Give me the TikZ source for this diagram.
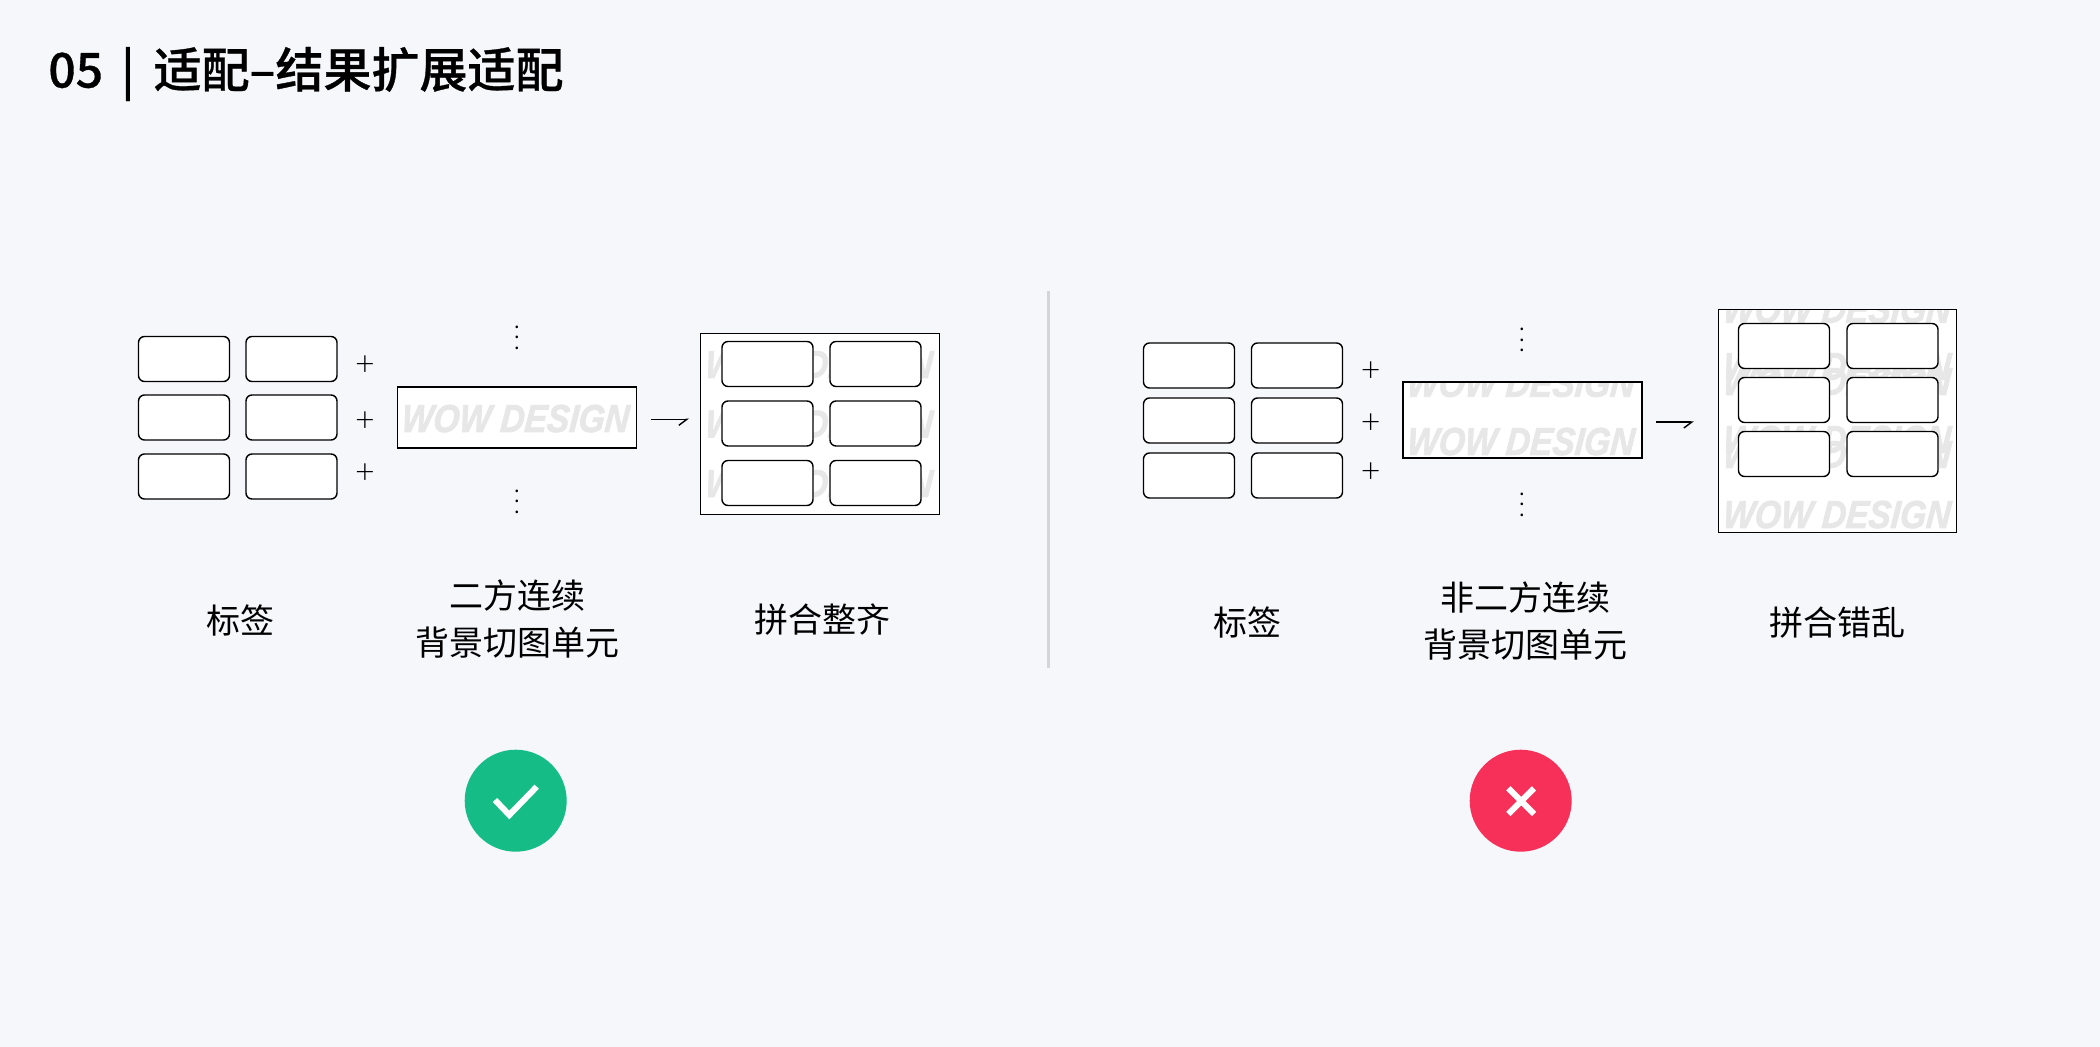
\documentclass[tikz,border=0pt]{standalone}
\usepackage{fontspec}
\setmainfont{Noto Sans CJK SC}
\newfontfamily\titlefont[FakeBold=0.7]{Noto Sans CJK SC Medium}
\newfontfamily\wowfont[BoldItalicFeatures={FakeBold=2,FakeSlant=0.1}]{Liberation Sans}
\newfontfamily\plusfont{Lato Light}
\usetikzlibrary{arrows.meta}
\definecolor{paper}{HTML}{F6F7FB}
\definecolor{okgreen}{HTML}{16BC85}
\definecolor{badred}{HTML}{F73059}
\definecolor{wowgray}{HTML}{E7E7E7}
\definecolor{dividergray}{HTML}{D5D5D8}

\begin{document}
\begin{tikzpicture}[x=0.5pt,y=-0.5pt,
   tagbox/.style={draw=black,fill=white,line width=0.7pt,rounded corners=3pt,inner sep=0pt,minimum width=45.5pt,minimum height=22.5pt},
   framebox/.style={fill=white,inner sep=0pt},
   frameline/.style={line width=0.8pt},
   wowmark/.style={anchor=base west,inner sep=0pt,text=wowgray,transform shape,xscale=0.86,font=\wowfont\bfseries\itshape\fontsize{19.5pt}{19.5pt}\selectfont},
   plusmark/.style={inner sep=0pt,yshift=-0.7pt,text=black,font=\plusfont\fontsize{17pt}{17pt}\selectfont},
   dotsmark/.style={inner sep=0pt,align=center,font=\fontsize{10pt}{5.25pt}\selectfont},
   caption/.style={inner sep=0pt,align=center,font=\fontsize{17pt}{23.5pt}\selectfont},
   arrowline/.style={line width=0.7pt,-{Straight Barb[harpoon,swap,length=4pt,width=6pt,line width=0.7pt]}},
   badge/.style={circle,inner sep=0pt,minimum size=51pt}]
\useasboundingbox (0,0) rectangle (2100,1047);
\fill[paper] (0,0) rectangle (2100,1047);
\node[anchor=west,inner sep=0pt,font=\titlefont\fontsize{24pt}{24pt}\selectfont] (title) at (48,74) {05\hspace{9pt}|\hspace{9.5pt}适配–结果扩展适配};
\draw[dividergray,line width=1.2pt] (1048.5,291) -- (1048.5,668);

% good side
\node[tagbox] (tagAa) at (184,359) {};   \node[tagbox] (tagAb) at (291.5,359) {};
\node[tagbox] (tagAc) at (184,417.5) {}; \node[tagbox] (tagAd) at (291.5,417.5) {};
\node[tagbox] (tagAe) at (184,476.5) {}; \node[tagbox] (tagAf) at (291.5,476.5) {};
\node[plusmark] (plusAa) at (365,364) {+};
\node[plusmark] (plusAb) at (365,420) {+};
\node[plusmark] (plusAc) at (365,472) {+};
\node[dotsmark] (dotsAa) at (517,337.5) {.\\.\\.};
\node[dotsmark] (dotsAb) at (517,501.5) {.\\.\\.};
\node[framebox,minimum width=119pt,minimum height=30pt] (tileA) at (517,417.7) {};
\node[wowmark] (wowAa) at (400.5,432) {WOW DESIGN};
\draw[frameline] (tileA.south west) rectangle (tileA.north east);
\node[framebox,minimum width=119pt,minimum height=90pt] (sheetA) at (820,424) {};
\begin{scope}
\clip (sheetA.south west) rectangle (sheetA.north east);
\node[wowmark] (wowAb) at (704,378) {WOW DESIGN};
\node[wowmark] (wowAc) at (704,437.5) {WOW DESIGN};
\node[wowmark] (wowAd) at (704,497) {WOW DESIGN};
\end{scope}
\draw[frameline] (sheetA.south west) rectangle (sheetA.north east);
\node[tagbox] (cellAa) at (767.5,364) {};   \node[tagbox] (cellAb) at (875.5,364) {};
\node[tagbox] (cellAc) at (767.5,423.5) {}; \node[tagbox] (cellAd) at (875.5,423.5) {};
\node[tagbox] (cellAe) at (767.5,483) {};   \node[tagbox] (cellAf) at (875.5,483) {};
\coordinate (arrowAa) at (651,419.3);
\coordinate (arrowAb) at (689,419.3);
\draw[arrowline] (arrowAa) -- (arrowAb);
\node[caption] (capAa) at (240,620) {标签};
\node[caption] (capAb) at (517,619) {二方连续\\背景切图单元};
\node[caption] (capAc) at (822,620) {拼合整齐};
\node[badge,fill=okgreen] (okbadge) at (515.7,800.7) {};
\draw[white,line width=3pt] (495,800) -- (509.3,815) -- (536.7,786.7);

% bad side
\node[tagbox] (tagBa) at (1189,365.5) {}; \node[tagbox] (tagBb) at (1297,365.5) {};
\node[tagbox] (tagBc) at (1189,420.5) {}; \node[tagbox] (tagBd) at (1297,420.5) {};
\node[tagbox] (tagBe) at (1189,475.5) {}; \node[tagbox] (tagBf) at (1297,475.5) {};
\node[plusmark] (plusBa) at (1370.7,370) {+};
\node[plusmark] (plusBb) at (1370.7,422) {+};
\node[plusmark] (plusBc) at (1370.7,471) {+};
\node[dotsmark] (dotsBa) at (1522.6,340) {.\\.\\.};
\node[dotsmark] (dotsBb) at (1522.6,504.5) {.\\.\\.};
\node[framebox,minimum width=119pt,minimum height=37.6pt] (tileB) at (1522.3,420) {};
\begin{scope}
\clip (tileB.south west) rectangle (tileB.north east);
\node[wowmark] (wowBa) at (1406,396.7) {WOW DESIGN};
\node[wowmark] (wowBb) at (1406,455) {WOW DESIGN};
\end{scope}
\draw[frameline] (tileB.south west) rectangle (tileB.north east);
\node[framebox,minimum width=118.5pt,minimum height=111pt] (sheetB) at (1837.5,421) {};
\begin{scope}
\clip (sheetB.south west) rectangle (sheetB.north east);
\node[wowmark] (wowBc) at (1722,322.7) {WOW DESIGN};
\node[wowmark] (wowBd) at (1722,380) {WOW DESIGN};
\node[wowmark] (wowBe) at (1722,395) {WOW DESIGN};
\node[wowmark] (wowBf) at (1722,453) {WOW DESIGN};
\node[wowmark] (wowBg) at (1722,468) {WOW DESIGN};
\node[wowmark] (wowBh) at (1722,528) {WOW DESIGN};
\end{scope}
\draw[frameline] (sheetB.south west) rectangle (sheetB.north east);
\node[tagbox] (cellBa) at (1784,346) {}; \node[tagbox] (cellBb) at (1892.5,346) {};
\node[tagbox] (cellBc) at (1784,400) {}; \node[tagbox] (cellBd) at (1892.5,400) {};
\node[tagbox] (cellBe) at (1784,454) {}; \node[tagbox] (cellBf) at (1892.5,454) {};
\coordinate (arrowBa) at (1656,422);
\coordinate (arrowBb) at (1694,422);
\draw[arrowline] (arrowBa) -- (arrowBb);
\node[caption] (capBa) at (1247,622.5) {标签};
\node[caption] (capBb) at (1525,621) {非二方连续\\背景切图单元};
\node[caption] (capBc) at (1837.5,623) {拼合错乱};
\node[badge,fill=badred] (badbadge) at (1520.7,800.7) {};
\draw[white,line width=3pt] (1508.3,788.3) -- (1534,814);
\draw[white,line width=3pt] (1534,788.3) -- (1508.3,814);
\end{tikzpicture}
\end{document}
